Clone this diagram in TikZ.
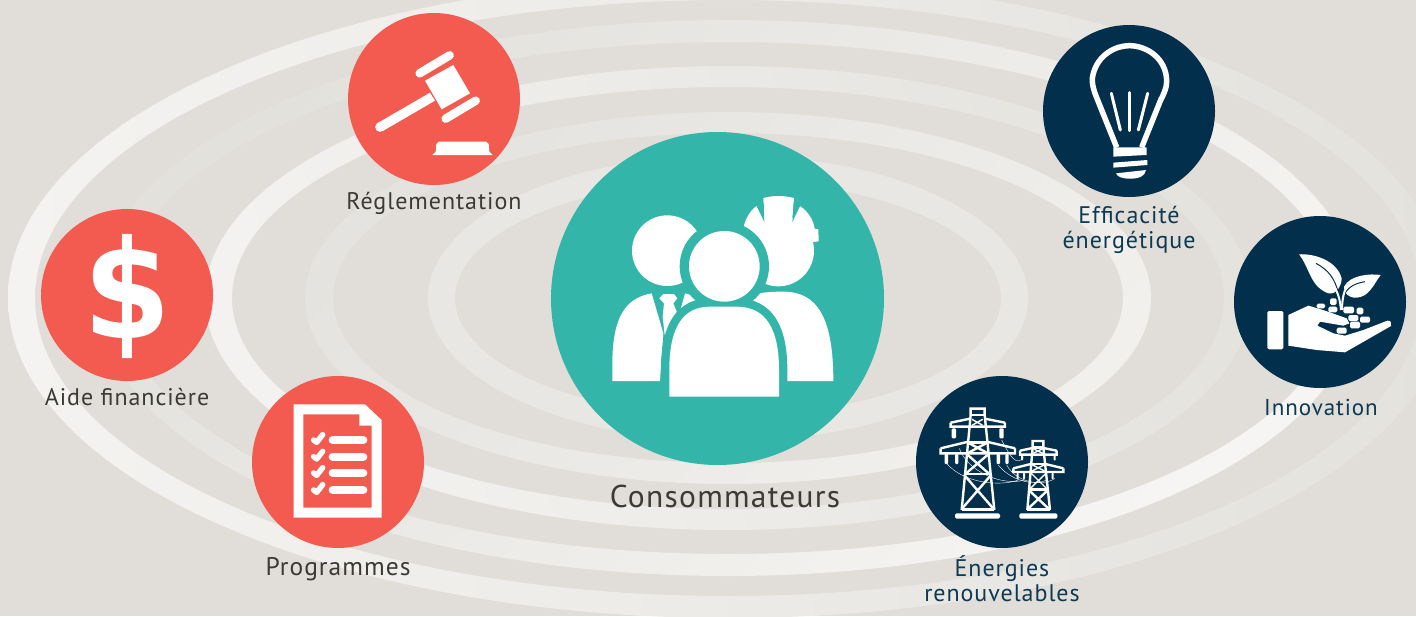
\documentclass[tikz,border=0pt]{standalone}
\usepackage{fontspec}
\setmainfont{PT Sans}[LetterSpace=4]
\newfontfamily\dollarfont{DejaVu Sans}
\definecolor{bgc}{HTML}{E1DED9}
\definecolor{teal1}{HTML}{33B5A9}
\definecolor{red1}{HTML}{F35B50}
\definecolor{navy1}{HTML}{02304C}
\definecolor{txtd}{HTML}{3D3A34}
\definecolor{txtn}{HTML}{0D3A52}
\definecolor{rfive}{HTML}{F4F3F1}
\definecolor{rfivem}{HTML}{F0EFEC}
\definecolor{rfivel}{HTML}{E4E2DD}
\definecolor{rfourl}{HTML}{E3E1DC}
\definecolor{rfourm}{HTML}{ECEAE7}
\definecolor{rfour}{HTML}{F6F5F3}
\definecolor{rthree}{HTML}{F3F2F0}
\definecolor{rthreel}{HTML}{E5E3DE}
\definecolor{rtwo}{HTML}{F1F0ED}
\definecolor{rtwol}{HTML}{E5E3DF}
\definecolor{rone}{HTML}{E9E7E3}
\tikzset{
 redc/.style={circle,fill=red1,minimum size=172pt,inner sep=0pt},
 navc/.style={circle,fill=navy1,minimum size=172pt,inner sep=0pt},
 lab/.style={inner sep=0pt,align=center,font=\fontsize{24}{25}\selectfont},
 labd/.style={lab,text=txtd},
 labn/.style={lab,text=txtn},
 wl/.style={draw=white,line cap=round,line join=round},
 icon/.style={x=0.33333pt,y=-0.33333pt},
}
\begin{document}
\begin{tikzpicture}[x=1pt,y=-1pt]
\useasboundingbox (0,0) rectangle (1416,616);
\fill[bgc] (0,0) rectangle (1416,616);
% rings
\shade[even odd rule,top color=rfive,middle color=rfivem,bottom color=rfivel,shading angle=90] (728,298) ellipse (720 and 320) (728,298) ellipse (693 and 298);
\shade[even odd rule,top color=rfourl,middle color=rfourm,bottom color=rfour,shading angle=45] (728,298) ellipse (630 and 278) (728,298) ellipse (607 and 256);
\shade[even odd rule,top color=rthree,bottom color=rthreel,shading angle=110] (728,298) ellipse (523 and 232) (728,298) ellipse (496 and 211);
\shade[even odd rule,top color=rtwol,bottom color=rtwo,shading angle=45] (728,298) ellipse (423 and 186) (728,298) ellipse (395 and 165);
\fill[even odd rule,color=rone] (728,298) ellipse (300 and 143) (728,298) ellipse (273 and 118);
% circles
\node[circle,fill=teal1,minimum size=333pt,inner sep=0pt] (cons) at (717.5,298.5) {};
\node[redc] (regl) at (434,99) {};
\node[redc] (aide) at (127,295) {};
\node[redc] (prog) at (338,462) {};
\node[navc] (effi) at (1129,111) {};
\node[navc] (inno) at (1320,302) {};
\node[navc] (ener) at (1002,462) {};
% labels
\node[lab,text=txtd,font=\fontsize{31.5}{33}\selectfont] (tcons) at (725,496) {Consommateurs};
\node[labd] (treg) at (434,203) {Réglementation};
\node[labd] (taid) at (127,397) {Aide financière};
\node[labd,font=\fontsize{25.5}{27}\selectfont] (tpro) at (338,569) {Programmes};
\node[labn] (teff) at (1129,230) {Efficacité\\énergétique};
\node[labn,font=\fontsize{23}{25}\selectfont] (tinn) at (1321,407) {Innovation};
\node[labn] (tene) at (1002,579) {Énergies\\renouvelables};
% dollar
\node[inner sep=0pt,text=white,xscale=0.92,font=\dollarfont\bfseries\fontsize{137}{137}\selectfont] (dol) at (127.5,297) {\$};
% people
\begin{scope}[shift={(580,170)},icon]
\fill[white] (262,242) circle (106);
\fill[white] (595,242) circle (107);
\fill[white] (490,175) .. controls (497,140) and (515,118) .. (530,108) -- (553,150) -- (550,84) .. controls (580,76) and (610,76) .. (642,84) -- (637,150) -- (660,108) .. controls (685,125) and (700,150) .. (704,176) -- (715,178) -- (716,214) -- (700,216) -- (595,242) -- cycle;
\fill[teal1] (553,156) -- (530,108) -- (551,100) -- cycle (637,156) -- (660,108) -- (641,100) -- cycle;
\fill[white] (97,633) -- (97,570) .. controls (100,450) and (130,385) .. (215,370) -- (250,490) -- (240,633) -- cycle;
\fill[white] (315,370) -- (300,425) -- (370,395) .. controls (350,380) .. (315,370) -- cycle;
\fill[white] (250,372) -- (282,372) -- (292,385) -- (280,400) -- (290,425) -- (288,445) -- (254,495) -- (248,440) -- (252,400) -- (238,385) -- cycle;
\fill[white] (480,390) .. controls (520,368) and (560,365) .. (610,365) .. controls (710,365) and (760,440) .. (760,633) -- (600,633) -- (480,500) -- cycle;
\fill[teal1] (433,289) circle (134);
\path[fill=white,draw=teal1,line width=16.7pt,line join=round] (268,680) -- (268,590) .. controls (270,470) and (310,410) .. (390,410) -- (470,410) .. controls (560,410) and (597,480) .. (597,600) -- (597,680) -- cycle;
\fill[white] (268,680) -- (268,590) .. controls (270,470) and (310,410) .. (390,410) -- (470,410) .. controls (560,410) and (597,480) .. (597,600) -- (597,680) -- cycle;
\fill[white] (433,289) circle (106);
\end{scope}
% gavel
\begin{scope}[shift={(345,10)},icon]
\draw[wl,line width=8.5pt] (224,190) -- (314,136);
\draw[wl,line width=8.5pt] (302,326) -- (392,272);
\fill[white] (240,212) -- (325,165) -- (375,250) -- (290,298) -- cycle;
\fill[white] (98,339) -- (255,248) -- (270,272) -- (112,364) -- cycle;
\fill[white] (105,351) circle (14.5);
\fill[white] (262,435) -- (272,425) -- (274,402) -- (281,395) -- (424,395) -- (431,402) -- (433,425) -- (443,435) -- cycle;
\end{scope}
% document
\begin{scope}[shift={(250,375)},icon]
\fill[white,even odd rule] (131,88) -- (345,88) -- (395,135) -- (395,428) -- (131,428) -- cycle (160,118) -- (328,118) -- (328,152) -- (365,152) -- (365,398) -- (160,398) -- cycle;
\foreach \yy in {195,245,294,345}{
 \draw[wl,line width=8pt] (248,\yy) -- (340,\yy);
 \draw[wl,line width=5.5pt] (191,\yy) -- (200,\yy+7) -- (218,\yy-16);
}
\end{scope}
% bulb
\begin{scope}[shift={(1040,20)},icon]
\draw[white,line width=5.5pt,line join=round] (230,382) -- (168,228) .. controls (155,195) and (155,175) .. (160,160) .. controls (175,105) and (225,77) .. (268,77) .. controls (320,77) and (380,115) .. (380,185) .. controls (380,205) and (370,225) .. (362,240) -- (305,382);
\fill[white] (220,382) -- (320,382) -- (320,405) -- (220,410) -- cycle;
\fill[white] (220,428) -- (322,420) -- (322,435) -- (220,443) -- cycle;
\fill[white] (228,460) -- (318,450) .. controls (315,470) and (295,476) .. (270,476) .. controls (245,476) and (232,470) .. (228,460) -- cycle;
\draw[wl,line width=3pt] (214,220) -- (241,330);
\draw[wl,line width=3pt] (267,218) -- (267,332);
\draw[wl,line width=3pt] (323,220) -- (295,330);
\end{scope}
% hand and plant
\begin{scope}[shift={(1230,215)},icon]
\fill[white,rounded corners=1.5pt] (112,288) rectangle (160,403);
\foreach \xa/\ya/\xb/\yb in {300/250/320/270,260/266/285/280,295/275/322/292,340/275/372/295,380/278/400/298,355/300/385/318,390/305/420/323,360/320/390/340}{
 \fill[white,rounded corners=1.5pt] (\xa,\ya) rectangle (\xb,\yb);
}
\fill[white] (175,392) -- (175,300) -- (235,272) .. controls (280,285) .. (350,310) -- (358,325) -- (340,332) -- (270,320) -- (262,332) -- (310,355) -- (345,362) -- (400,345) -- (472,317) .. controls (483,318) .. (483,333) -- (345,412) -- (260,405) -- cycle;
\fill[white,rounded corners=1.5pt] (320,338) rectangle (350,356);
\fill[white] (207,118) .. controls (250,115) and (320,135) .. (335,190) .. controls (335,210) and (320,240) .. (295,235) .. controls (240,215) and (240,160) .. (207,118) -- cycle;
\fill[white] (452,180) .. controls (420,175) and (360,180) .. (342,215) .. controls (340,240) and (370,260) .. (405,240) .. controls (430,220) and (430,210) .. (452,180) -- cycle;
\draw[navy1,line width=1pt] (258,145) .. controls (295,165) and (315,190) .. (325,235);
\draw[navy1,line width=1pt] (405,200) .. controls (375,205) and (355,215) .. (342,240);
\draw[white,line width=2pt] (310,210) .. controls (325,235) and (330,255) .. (333,285);
\draw[white,line width=2pt] (345,225) .. controls (338,245) and (336,265) .. (336,285);
\end{scope}
% pylons
\begin{scope}[shift={(900,370)},icon]
\tikzset{pyl/.style={draw=white,line width=2.4pt,line join=miter},pyt/.style={draw=white,line width=1.4pt},pyw/.style={draw=white,line width=0.4pt}}
% wires
\draw[pyw] (178,235) .. controls (200,300) and (300,350) .. (375,330);
\draw[pyw] (140,280) .. controls (190,340) and (300,350) .. (355,330);
\draw[pyw] (305,210) .. controls (330,260) and (350,290) .. (370,262);
\draw[pyw] (320,285) .. controls (350,340) and (430,350) .. (465,325);
\draw[pyw] (295,285) .. controls (330,330) and (400,350) .. (440,330);
% big tower
\draw[pyl] (185,420) -- (212,135) -- (212,116) -- (254,116) -- (254,135) -- (283,420);
\draw[pyl] (212,135) -- (254,135);
\draw[pyl] (152,158) -- (210,146) (254,146) -- (315,158) (152,158) -- (152,170) -- (315,170) -- (315,158);
\draw[pyl] (122,235) -- (205,215) (260,215) -- (345,235) (122,235) -- (122,250) -- (345,250) -- (345,235);
\draw[pyt] (216,148) -- (248,166) (248,148) -- (216,166);
\draw[pyl] (204,218) -- (262,218);
\draw[pyl] (208,220) -- (264,250) (258,220) -- (202,250);
\draw[pyl] (200,252) -- (268,312) (266,252) -- (196,312);
\draw[pyl] (196,312) -- (272,312);
\draw[pyl] (192,314) -- (280,416) (274,314) -- (186,416);
\draw[pyl] (186,418) -- (283,418);
\fill[white,rounded corners=1.5pt] (165,430) rectangle (300,446);
\fill[white,rounded corners=1pt] (155,175) rectangle (168,205);
\fill[white,rounded corners=1pt] (298,175) rectangle (311,205);
\foreach \xx in {139,170,295,321}{\fill[white,rounded corners=1pt] (\xx-5,252) rectangle (\xx+5,282);}
% small tower
\draw[pyl] (382,420) -- (398,232) -- (398,213) -- (430,213) -- (430,232) -- (450,420);
\draw[pyl] (398,232) -- (430,232);
\draw[pyl] (360,242) -- (398,234) (430,234) -- (470,242) (360,242) -- (360,254) -- (470,254) -- (470,242);
\draw[pyl] (340,295) -- (392,282) (436,282) -- (490,295) (340,295) -- (340,306) -- (490,306) -- (490,295);
\draw[pyt] (400,236) -- (428,250) (428,236) -- (400,250);
\draw[pyl] (394,282) -- (436,282);
\draw[pyt] (396,284) -- (436,304) (434,284) -- (394,304);
\draw[pyt] (392,308) -- (442,358) (440,308) -- (388,358);
\draw[pyl] (388,358) -- (444,358);
\draw[pyl] (386,360) -- (448,418) (444,360) -- (382,418);
\draw[pyl] (382,419) -- (450,419);
\fill[white,rounded corners=1.5pt] (358,430) rectangle (472,446);
\foreach \xx in {353,372,458}{\fill[white,rounded corners=1pt] (\xx-3,308) rectangle (\xx+3,328);}
\foreach \xx in {366,464}{\fill[white,rounded corners=1pt] (\xx-3,256) rectangle (\xx+3,272);}
\end{scope}
\end{tikzpicture}
\end{document}
